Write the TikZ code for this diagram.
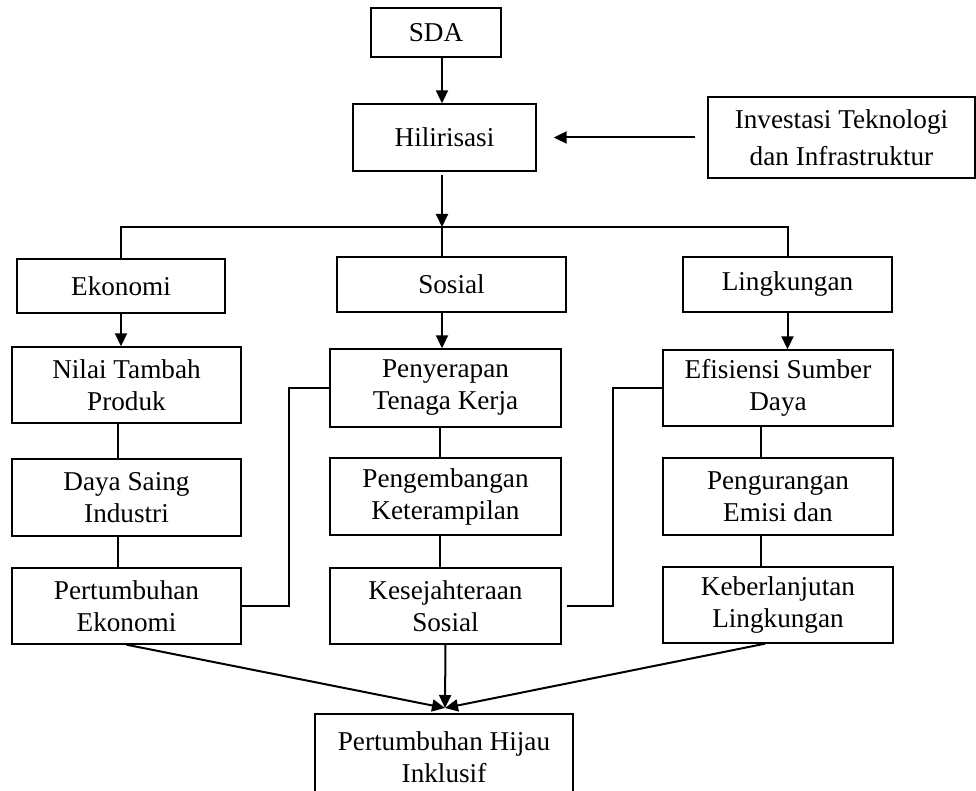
\documentclass[tikz,border=0pt]{standalone}
\usepackage{fontspec}
\setmainfont{Liberation Serif}
\usetikzlibrary{arrows.meta}
\tikzset{
        boxnode/.style={draw=black, line width=0.7pt, align=center, inner sep=2pt, font=\fontsize{13.6}{16}\selectfont},
        arrowline/.style={black, line width=1pt, -{Triangle[length=6.5pt,width=6pt]}},
        plainline/.style={black, line width=1pt}
}
\begin{document}
\begin{tikzpicture}[x=0.5pt,y=-0.5pt]
        \useasboundingbox (0,0) rectangle (976,791);
        % top
        \node[boxnode, minimum width=65pt, minimum height=24.5pt] (sda) at (436,32.5) {SDA};
        \node[boxnode, minimum width=91.5pt, minimum height=33.5pt] (hil) at (444.5,137.5) {Hilirisasi};
        \node[boxnode, minimum width=133.5pt, minimum height=40.5pt, font=\fontsize{13.6}{18.5}\selectfont] (inv) at (841.5,137.5) {Investasi Teknologi\\dan Infrastruktur};
        \node[boxnode, minimum width=104pt, minimum height=27pt] (eko) at (121,286) {Ekonomi};
        \node[boxnode, minimum width=114.5pt, minimum height=27.5pt] (sos) at (451.5,284.5) {Sosial};
        \node[boxnode, minimum width=104.5pt, minimum height=27.5pt] (lin) at (787.5,284.5) {Lingkungan};
        % columns
        \node[boxnode, minimum width=114.5pt, minimum height=38pt] (nil) at (126.5,385) {Nilai Tambah\\Produk};
        \node[boxnode, minimum width=114.5pt, minimum height=38.5pt] (day) at (126.5,497.5) {Daya Saing\\Industri};
        \node[boxnode, minimum width=114.5pt, minimum height=38pt] (pte) at (126.5,606) {Pertumbuhan\\Ekonomi};
        \node[boxnode, minimum width=115.5pt, minimum height=39pt] (pen) at (445.5,388) {Penyerapan\\Tenaga Kerja};
        \node[boxnode, minimum width=115.5pt, minimum height=38.5pt] (pgb) at (445.5,496.5) {Pengembangan\\Keterampilan};
        \node[boxnode, minimum width=115.5pt, minimum height=38pt] (kes) at (445.5,606) {Kesejahteraan\\Sosial};
        \node[boxnode, minimum width=115pt, minimum height=38pt] (efi) at (778,388) {Efisiensi Sumber\\Daya};
        \node[boxnode, minimum width=115pt, minimum height=38.5pt] (pgr) at (778,496.5) {Pengurangan\\Emisi dan};
        \node[boxnode, minimum width=115pt, minimum height=38pt] (keb) at (778,605) {Keberlanjutan\\Lingkungan};
        \node[boxnode, minimum width=129pt, minimum height=43pt] (phi) at (444,757) {Pertumbuhan Hijau\\Inklusif};
        \coordinate (jn) at (442,227);
        \coordinate (mg) at (445,708);
        \coordinate (e1) at (289,0);
        \coordinate (e2) at (613,0);
        % arrows and lines
        \draw[arrowline] (sda.south -| jn) -- (hil.north -| jn);
        \draw[arrowline, shorten <=6pt, shorten >=8.5pt] (inv.west) -- (hil.east);
        \draw[arrowline, shorten <=1.5pt] (hil.south -| jn) -- (jn);
        \draw[plainline] (eko.north) -- (eko.north |- jn) -- (lin.north |- jn) -- (lin.north);
        \draw[plainline] (jn) -- (jn |- sos.north);
        \draw[arrowline] (eko.south) -- (eko.south |- nil.north);
        \draw[arrowline] (sos.south -| jn) -- (pen.north -| jn);
        \draw[arrowline] (lin.south) -- (lin.south |- efi.north);
        \draw[plainline] ([xshift=-4.25pt]nil.south) -- ([xshift=-4.25pt]day.north);
        \draw[plainline] ([xshift=-4.25pt]day.south) -- ([xshift=-4.25pt]pte.north);
        \draw[plainline] ([xshift=-2.75pt]pen.south) -- ([xshift=-2.75pt]pgb.north);
        \draw[plainline] ([xshift=-2.75pt]pgb.south) -- ([xshift=-2.75pt]kes.north);
        \draw[plainline] ([xshift=-8.5pt]efi.south) -- ([xshift=-8.5pt]pgr.north);
        \draw[plainline] ([xshift=-8.5pt]pgr.south) -- ([xshift=-8.5pt]keb.north);
        \draw[plainline] (pte.east) -- (pte.east -| e1) -- (e1 |- pen.west) -- (pen.west);
        \draw[plainline] ([xshift=2.5pt]kes.east) -- (kes.east -| e2) -- (e2 |- efi.west) -- (efi.west);
        \draw[arrowline] (pte.south) -- (mg);
        \draw[arrowline] (kes.south) -- (mg);
        \draw[arrowline] ([xshift=-6.5pt]keb.south) -- (mg);
\end{tikzpicture}
\end{document}
